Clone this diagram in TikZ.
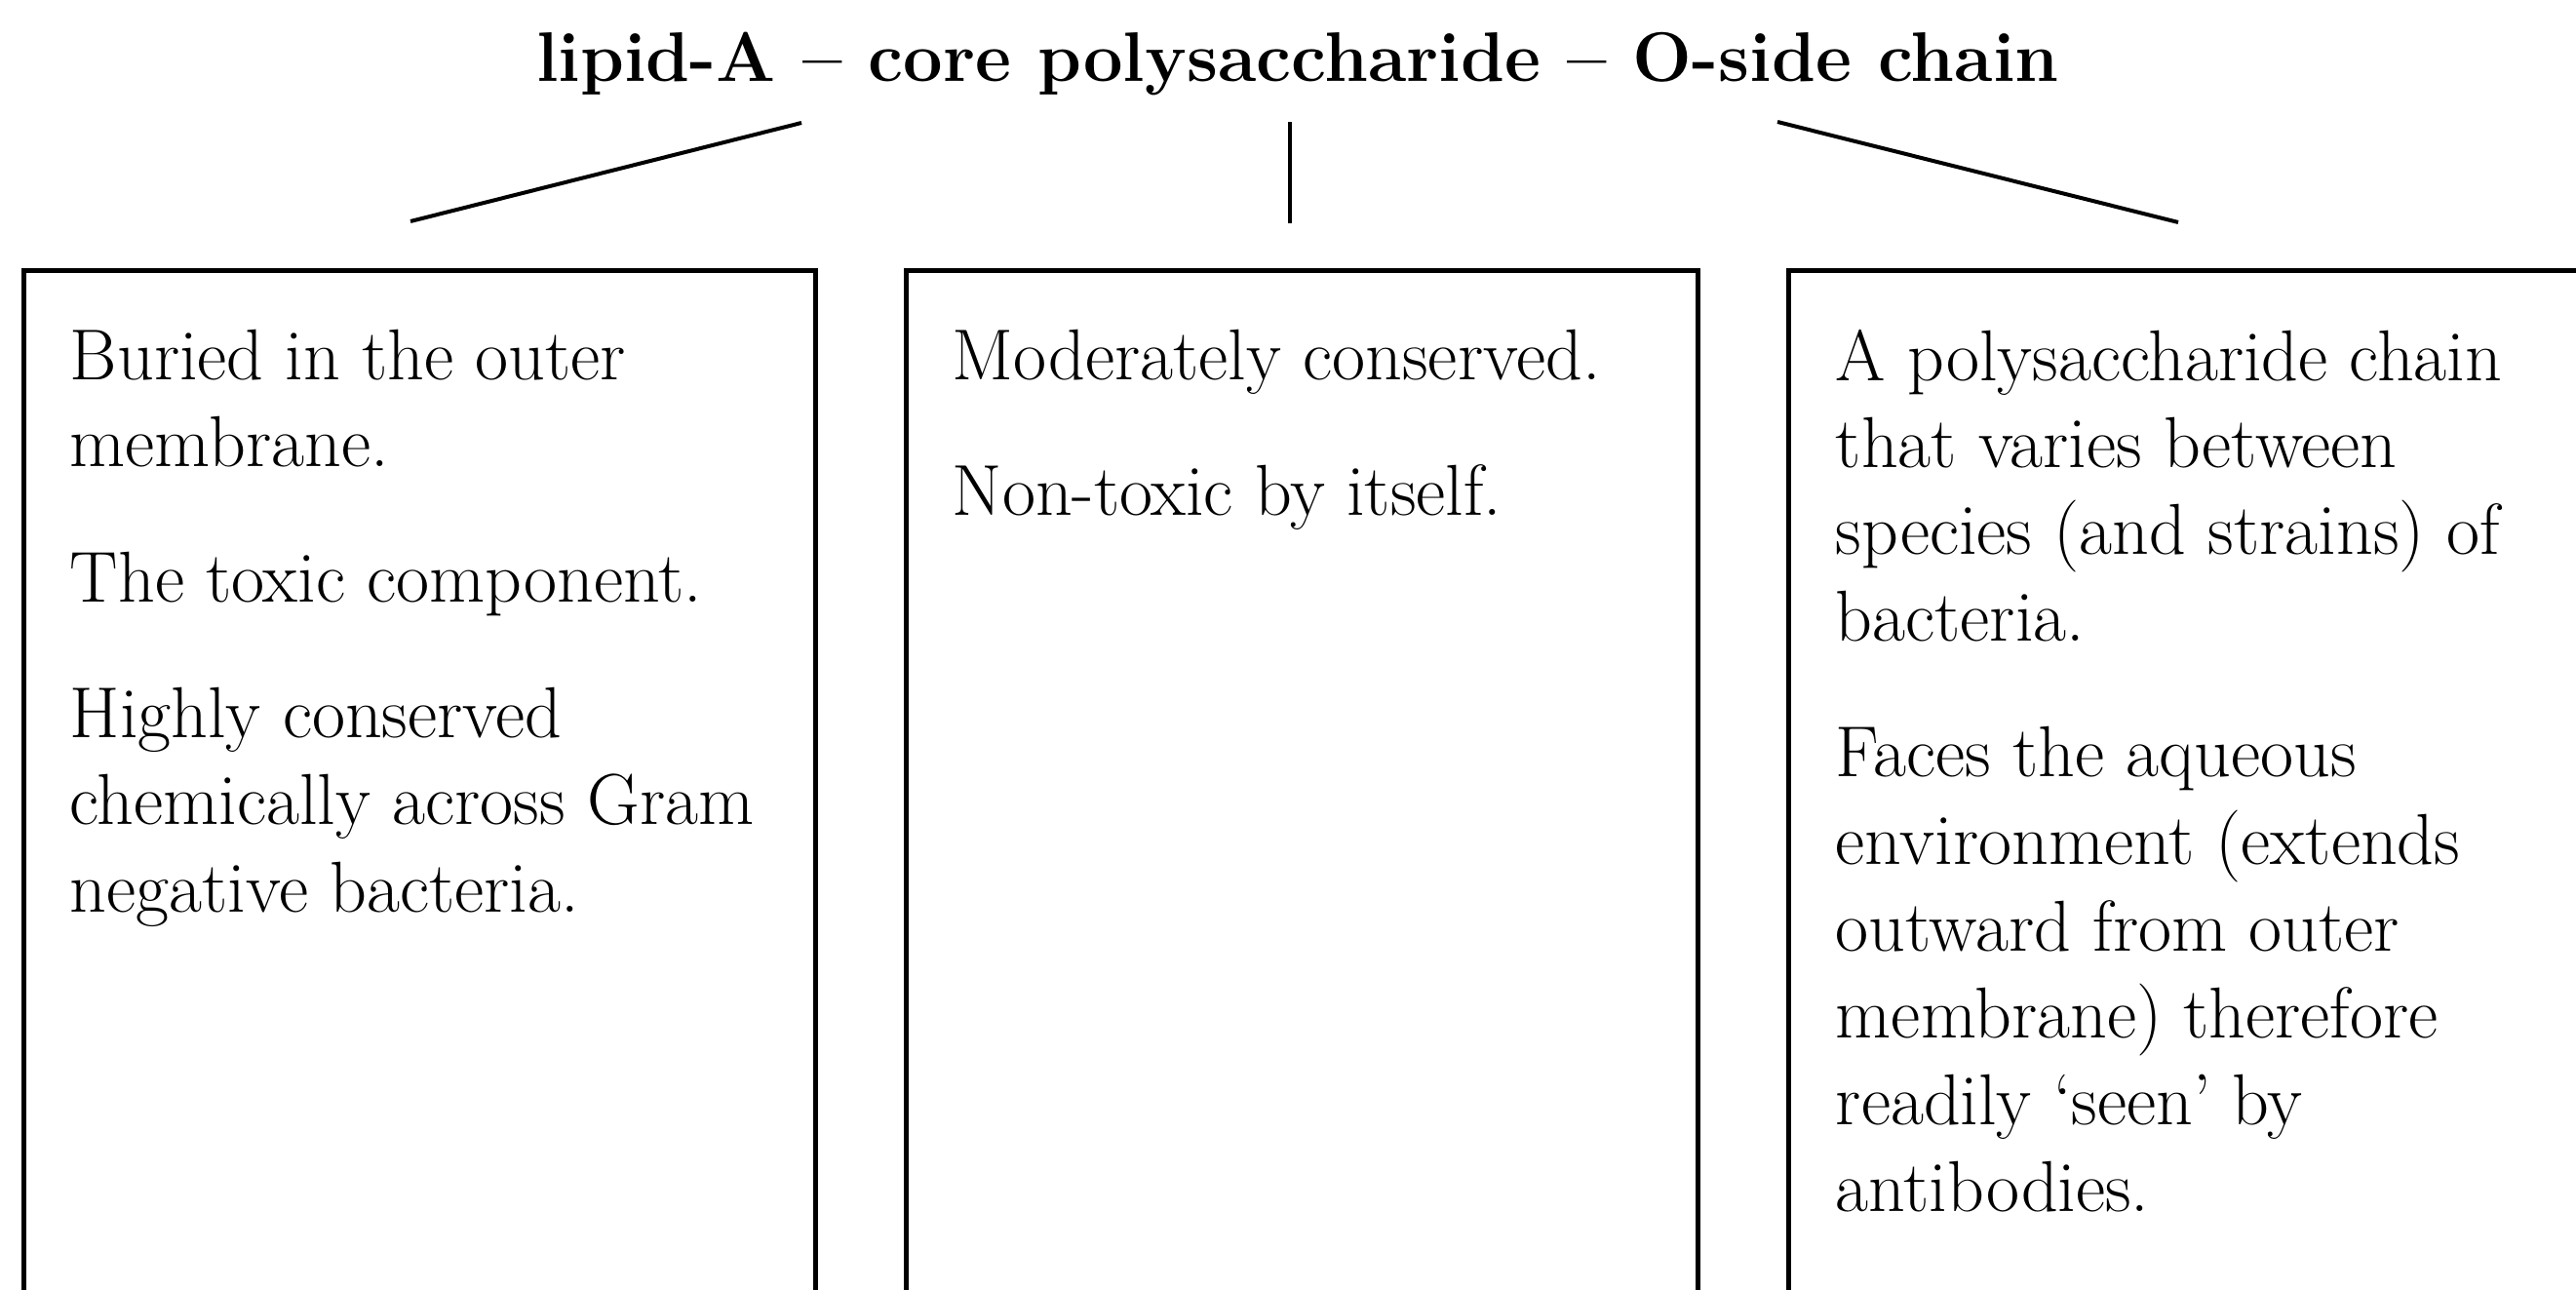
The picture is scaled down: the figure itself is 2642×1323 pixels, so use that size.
\documentclass[tikz,border=0pt]{standalone}
\begin{document}
\begin{tikzpicture}[x=0.25pt, y=-0.25pt,
    panel/.style={draw, line width=1.3pt, minimum width=203pt, minimum height=265pt, anchor=north west, inner sep=0pt},
    paneltext/.style={anchor=north west, align=left, inner sep=0pt, font=\fontsize{18.5}{22.3}\selectfont},
    stem/.style={line width=1pt}]
    \useasboundingbox (0,0) rectangle (2642,1323);

    % Title
    \node[anchor=base, font=\fontsize{18}{21}\selectfont\bfseries] (title) at (1331,84) {lipid-A -- core polysaccharide -- O-side chain};

    % Stems below the three parts
    \coordinate (lipidtop) at (822,126);
    \coordinate (lipidfoot) at (421,227);
    \coordinate (coretop) at (1323,125);
    \coordinate (corefoot) at (1323,229);
    \coordinate (chaintop) at (1823,125);
    \coordinate (chainfoot) at (2234,228);
    \draw[stem] (lipidtop) -- (lipidfoot);
    \draw[stem] (coretop) -- (corefoot);
    \draw[stem] (chaintop) -- (chainfoot);

    % Left: lipid-A
    \node[panel] (lipidbox) at (22,275) {};
    \node[paneltext] (lipidtext) at (71,337) {Buried in the outer\\membrane.\\[12.5pt]The toxic component.\\[12.5pt]Highly conserved\\chemically across Gram\\negative bacteria.};

    % Middle: core polysaccharide
    \node[panel] (corebox) at (927,275) {};
    \node[paneltext] (coretext) at (976,337) {Moderately conserved.\\[12.5pt]Non-toxic by itself.};

    % Right: O-side chain
    \node[panel] (chainbox) at (1832,275) {};
    \node[paneltext] (chaintext) at (1882,337) {A polysaccharide chain\\that varies between\\species (and strains) of\\bacteria.\\[12.5pt]Faces the aqueous\\environment (extends\\outward from outer\\membrane) therefore\\readily ‘seen’ by\\antibodies.};
\end{tikzpicture}
\end{document}
